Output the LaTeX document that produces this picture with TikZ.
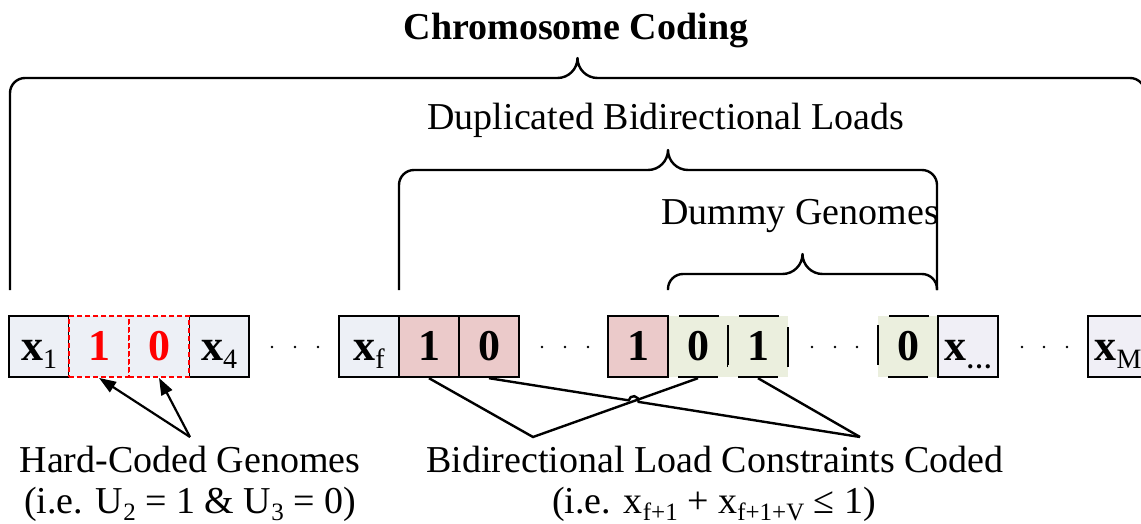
\documentclass[tikz,border=0pt]{standalone}
\usepackage{fontspec}
\setmainfont{Liberation Serif}
\usetikzlibrary{arrows.meta,calc,intersections}

\definecolor{cellblue}{RGB}{237,240,246}
\definecolor{cellviolet}{RGB}{240,239,246}
\definecolor{cellpink}{RGB}{235,202,202}
\definecolor{cellgreen}{RGB}{235,239,222}

% lowered index, regular weight
\newcommand{\lowidx}[1]{\raisebox{-7pt}{\fontsize{25}{25}\selectfont\mdseries #1}}
% lowered index inside a cell
\newcommand{\cellidx}[1]{\raisebox{-8pt}{\fontsize{28}{28}\selectfont\mdseries #1}}
% gene label x_i
\newcommand{\gene}[1]{x\cellidx{#1}}
% curly brace with legs: left x, right x, bar depth, leg end depth
\newcommand{\genebrace}[4]{%
  \draw[brace line] (#1,-#4) -- (#1,{-#3-15}) arc[start angle=180,end angle=90,radius=15]
    -- ({(#1+#2)/2-20},-#3) arc[start angle=-90,end angle=0,radius=20]
    arc[start angle=180,end angle=270,radius=20] -- ({#2-15},-#3)
    arc[start angle=90,end angle=0,radius=15] -- (#2,-#4);}

\begin{document}
\begin{tikzpicture}[x=1pt,y=1pt,
  font=\fontsize{38}{40}\selectfont,
  cell/.style={draw, line width=2.4pt, minimum width=60pt, minimum height=61pt,
    inner sep=0pt, text height=27pt, text depth=0pt, font=\fontsize{44}{46}\selectfont\bfseries},
  plaincell/.style={cell, fill=cellblue},
  hardcell/.style={cell, fill=cellblue, draw=red, line width=1.8pt,
    dash pattern=on 5pt off 3pt, text=red},
  loadcell/.style={cell, fill=cellpink},
  dummycell/.style={cell, fill=cellgreen, dash pattern=on 40pt off 20pt, dash phase=50pt},
  endcell/.style={cell, fill=cellviolet},
  brace line/.style={line width=2.4pt, line join=round},
  link/.style={line width=2.4pt},
  pointer/.style={line width=2.2pt, -{Triangle[length=17pt,width=12pt]}},
  gap dot/.style={fill=black},
]
\useasboundingbox (0,0) rectangle (1141,-524);

% title and group labels
\node[anchor=base, font=\fontsize{38}{40}\selectfont\bfseries] (title) at (576,-40) {Chromosome Coding};
\node[anchor=base] (duplabel) at (666,-130) {Duplicated Bidirectional Loads};
\node[anchor=base] (dummylabel) at (800,-224) {Dummy Genomes};

% braces
\genebrace{10}{1145}{78}{290}
\genebrace{399}{937}{170}{290}
\genebrace{668}{937}{274}{290}

% dummy genomes (drawn first so solid neighbours sit on top)
\node[dummycell] (g0) at (698,-346.5) {0};
\node[dummycell] (g1) at (758,-346.5) {1};
\node[dummycell] (g2) at (908,-346.5) {0};

% chromosome cells
\node[plaincell] (x1) at (39,-346.5) {\gene{1}};
\node[plaincell] (x4) at (219,-346.5) {\gene{4}};
\node[hardcell] (u2) at (99,-346.5) {1};
\node[hardcell] (u3) at (159,-346.5) {0};
\node[plaincell] (xf) at (369,-346.5) {\gene{f}};
\node[loadcell] (p1) at (429,-346.5) {1};
\node[loadcell] (p2) at (489,-346.5) {0};
\node[loadcell] (p3) at (638,-346.5) {1};
\node[endcell] (xd) at (968,-346.5) {x\raisebox{-8pt}{\fontsize{26}{26}\selectfont\bfseries …}};
\node[endcell] (xm) at (1118,-346.5) {\gene{M}};

% gaps in the chromosome
\foreach \px in {272,295,318, 542,565,588, 812,835,857, 1022,1044,1067}
  \fill[gap dot] (\px,-347) circle (1.4);

% bottom labels
\node[anchor=base] (hclabel) at (190,-472) {Hard-Coded Genomes};
\node[anchor=base] (hceq) at (190,-513) {(i.e. U\lowidx{2} = 1 \& U\lowidx{3} = 0)};
\node[anchor=base] (bllabel) at (715,-472) {Bidirectional Load Constraints Coded};
\node[anchor=base] (bleq) at (714,-513) {(i.e. x\lowidx{f+1} + x\lowidx{f+1+V} ≤ 1)};

% connector junctions
\coordinate (hc) at (190,-437);
\coordinate (blL) at (533,-437);
\coordinate (blR) at (860,-437);

% hard-coded pointers
\draw[pointer] (hc) -- (u2.south);
\draw[pointer] (hc) -- (u3.south);

% bidirectional pairs
\draw[link, line join=miter] (p1.south) -- (blL) -- (g0.south);
\draw[link] (g1.south) -- (blR);
\path[name path=pairA] (blL) -- (g0.south);
\path[name path=pairB] (p2.south) -- (blR);
\path[name intersections={of=pairA and pairB, by=X}];
\draw[link, line join=miter] let \p1=($(blR)-(p2.south)$), \n1={atan2(\y1,\x1)} in
  (p2.south) -- ($(X)!5pt!(p2.south)$) arc[start angle=\n1+180, end angle=\n1, radius=5pt]
  -- (blR);
\end{tikzpicture}
\end{document}
